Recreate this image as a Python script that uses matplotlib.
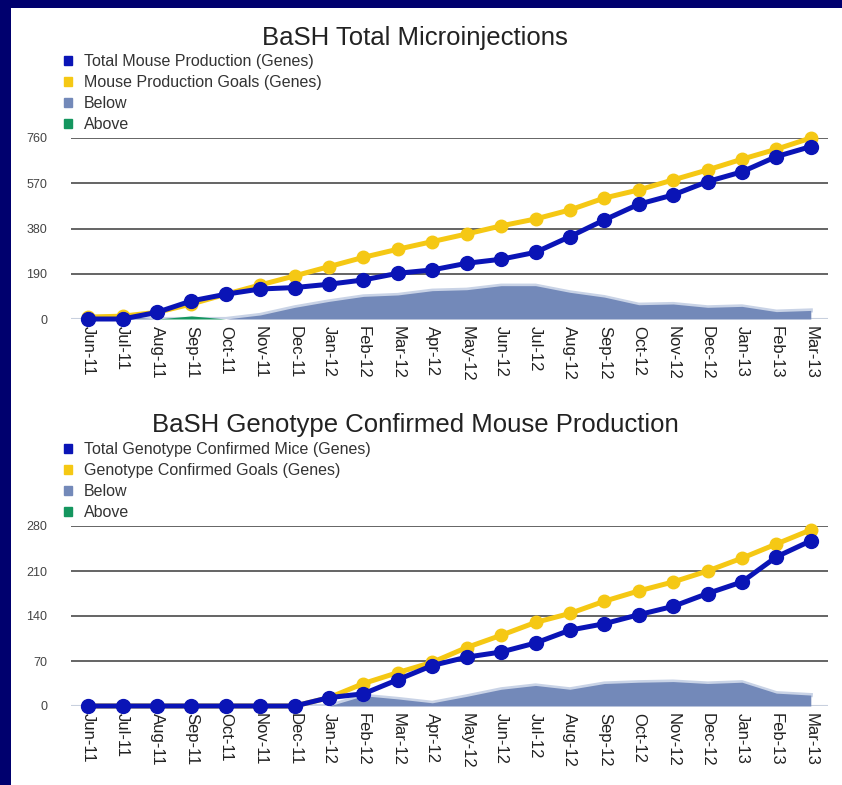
import matplotlib
matplotlib.use("Agg")
import matplotlib.pyplot as plt
from matplotlib.patches import Rectangle, Patch
import numpy as np

plt.rcParams['font.family'] = ['Liberation Sans', 'DejaVu Sans']

# data
months = ['Jun-11', 'Jul-11', 'Aug-11', 'Sep-11', 'Oct-11', 'Nov-11', 'Dec-11',
          'Jan-12', 'Feb-12', 'Mar-12', 'Apr-12', 'May-12', 'Jun-12', 'Jul-12',
          'Aug-12', 'Sep-12', 'Oct-12', 'Nov-12', 'Dec-12', 'Jan-13', 'Feb-13', 'Mar-13']

total_inj = [0, 0, 28, 76, 104, 126, 132, 146, 164, 192, 206, 234, 251, 280,
             346, 416, 482, 521, 577, 618, 682, 724]
goal_inj = [8, 12, 28, 63, 104, 143, 181, 220, 259, 293, 325, 357, 391, 420,
            458, 508, 542, 584, 626, 671, 713, 760]
ticks_inj = [0, 190, 380, 570, 760]

total_gc = [0, 0, 0, 0, 0, 0, 0, 13, 19, 41, 63, 76, 84, 98,
            118, 128, 142, 155, 175, 193, 232, 257]
goal_gc = [0, 0, 0, 0, 0, 0, 0, 13, 35, 52, 68, 91, 110, 130,
           144, 163, 179, 193, 210, 230, 252, 274]
ticks_gc = [0, 70, 140, 210, 280]

NAVY = '#00006e'
BLUE = '#0a14b6'
GOLD = '#f5c814'
BELOW = '#7389b9'
ABOVE = '#14965f'

W, H = 842, 785
fig = plt.figure(figsize=(W / 100, H / 100), dpi=100, facecolor=NAVY)
fig.patches.append(Rectangle((11 / W, 0), 1, 1 - 8 / H, transform=fig.transFigure,
                             facecolor='white', edgecolor='none', zorder=-5))


def panel(top_px, bot_px, title, title_y, total, goal, ticks, labels):
    ax = fig.add_axes([71 / W, 1 - bot_px / H, 757 / W, (bot_px - top_px) / H])
    ax.set_facecolor('none')
    x = np.arange(len(months))
    total = np.array(total, float)
    goal = np.array(goal, float)
    below = np.clip(goal - total, 0, None)
    above = np.clip(total - goal, 0, None)

    for t in ticks[1:]:
        ax.axhline(t, color='#3a3a3a', lw=1.1, zorder=1)
    ax.axhline(0, color='#c8d0de', lw=1.5, zorder=1)

    ax.plot(x, below, color='#c9d3e6', lw=3, zorder=2)
    ax.fill_between(x, 0, below, color=BELOW, lw=0, zorder=3)
    ax.fill_between(x, 0, above, color=ABOVE, lw=0, zorder=3)

    ax.plot(x, goal, color=GOLD, lw=3.6, marker='o', ms=9, zorder=4, clip_on=False)
    ax.plot(x, total, color=BLUE, lw=3.6, marker='o', ms=10, zorder=5, clip_on=False)

    ax.set_xlim(-0.5, len(months) - 0.5)
    ax.set_ylim(0, ticks[-1])
    ax.set_yticks(ticks)
    ax.set_yticklabels([str(t) for t in ticks], fontsize=9, color='#444444')
    ax.set_xticks(x)
    ax.set_xticklabels(months, rotation=270, fontsize=12, color='#222222')
    ax.tick_params(axis='y', length=0, pad=17)
    ax.tick_params(axis='x', length=0, pad=5)
    for s in ax.spines.values():
        s.set_visible(False)

    fig.text(415 / W, 1 - title_y / H, title, ha='center', va='center',
             fontsize=18.5, color='#222222')

    handles = [Patch(color=BLUE), Patch(color=GOLD), Patch(color=BELOW), Patch(color=ABOVE)]
    leg = fig.legend(handles, labels, loc='upper left',
                     bbox_to_anchor=(64 / W, 1 - (top_px - 84) / H),
                     frameon=False, fontsize=11.5, handlelength=0.5, handleheight=0.5,
                     handletextpad=0.75, labelspacing=0.37, borderpad=0, borderaxespad=0)
    for t in leg.get_texts():
        t.set_color('#333333')
    return ax


panel(138, 319, 'BaSH Total Microinjections', 38, total_inj, goal_inj, ticks_inj,
      ['Total Mouse Production (Genes)', 'Mouse Production Goals (Genes)', 'Below', 'Above'])
panel(526, 706, 'BaSH Genotype Confirmed Mouse Production', 425, total_gc, goal_gc, ticks_gc,
      ['Total Genotype Confirmed Mice (Genes)', 'Genotype Confirmed Goals (Genes)', 'Below', 'Above'])

fig.savefig('out.png', dpi=100, facecolor=NAVY)
